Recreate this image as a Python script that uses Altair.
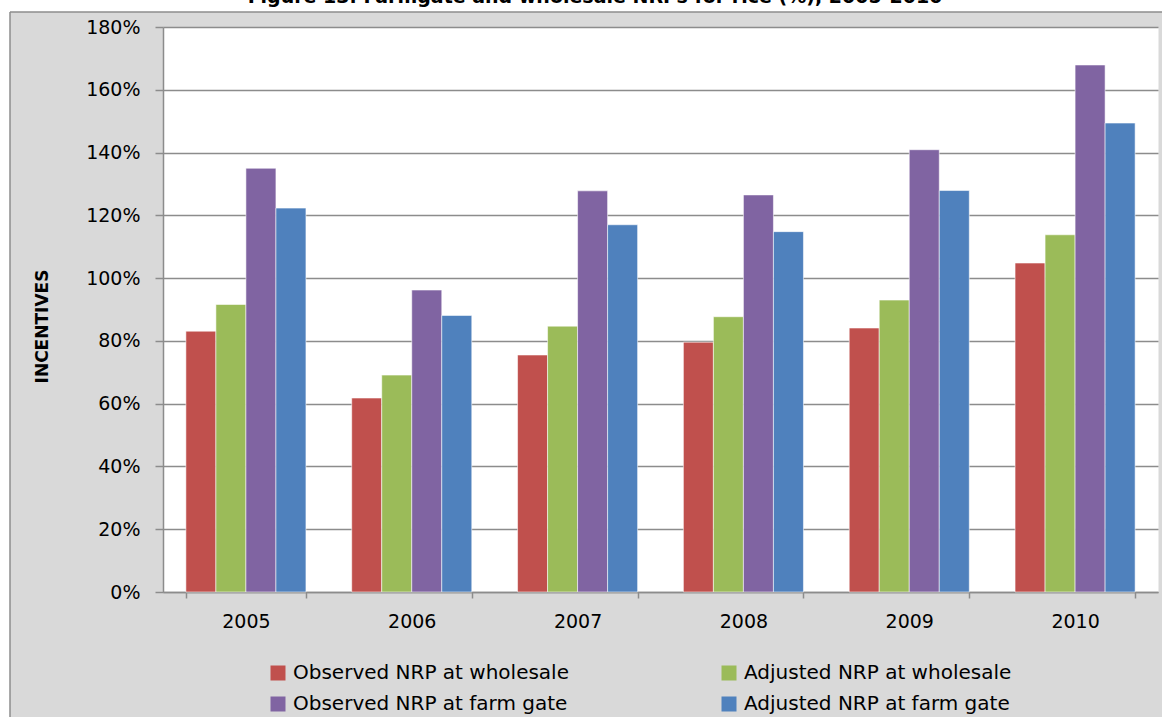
import altair as alt
import pandas as pd

# Nominal rates of protection for rice, by year (fractions; 1.0 = 100%)
years = ["2005", "2006", "2007", "2008", "2009", "2010"]
series = [
    "Observed NRP at wholesale",
    "Adjusted NRP at wholesale",
    "Observed NRP at farm gate",
    "Adjusted NRP at farm gate",
]
observed_wholesale = [0.831, 0.618, 0.755, 0.796, 0.841, 1.048]
adjusted_wholesale = [0.916, 0.691, 0.847, 0.877, 0.930, 1.138]
observed_farmgate = [1.350, 0.962, 1.278, 1.265, 1.409, 1.679]
adjusted_farmgate = [1.223, 0.881, 1.170, 1.148, 1.279, 1.494]
colors = ["#C0504D", "#9BBB59", "#8064A2", "#4F81BD"]
y_ticks = [0.0, 0.2, 0.4, 0.6, 0.8, 1.0, 1.2, 1.4, 1.6, 1.8]
title_text = "Figure 13. Farmgate and wholesale NRPs for rice (%), 2005-2010"

rows = []
for name, vals in zip(series, [observed_wholesale, adjusted_wholesale,
                               observed_farmgate, adjusted_farmgate]):
    for yr, v in zip(years, vals):
        rows.append({"year": yr, "series": name, "value": v})
df = pd.DataFrame(rows)

W, H = 995, 565
PAD_L, PAD_T = 163, 27
FONT = "DejaVu Sans"
GRID = "#8c8c8c"

bars = alt.Chart(df).mark_bar(
    stroke="white", strokeOpacity=0.55, strokeWidth=1
).encode(
    x=alt.X(
        "year:N",
        sort=years,
        scale=alt.Scale(paddingInner=0.276, paddingOuter=0.138),
        axis=alt.Axis(
            title=None, labelAngle=0, tickBand="extent", tickSize=6,
            labelPadding=14, domainColor=GRID, tickColor=GRID,
            domainWidth=1.5, tickWidth=1.5, grid=False,
        ),
    ),
    xOffset=alt.XOffset("series:N", sort=series,
                        scale=alt.Scale(paddingInner=0, paddingOuter=0)),
    y=alt.Y(
        "value:Q",
        scale=alt.Scale(domain=[0, 1.8], nice=False),
        axis=alt.Axis(
            title="INCENTIVES", values=y_ticks, format=".0%",
            grid=True, gridColor=GRID, gridWidth=1.5,
            domainColor=GRID, domainWidth=1.5, tickColor=GRID,
            tickWidth=1.5, tickSize=8, labelPadding=15,
            titleFontWeight="bold", titleFontSize=17,
            titleAngle=270, titleAlign="center", titleBaseline="middle",
            titleX=42 - PAD_L, titleY=326 - PAD_T,
        ),
    ),
    color=alt.Color(
        "series:N",
        sort=series,
        scale=alt.Scale(domain=series, range=colors),
        legend=alt.Legend(
            title=None, orient="none", legendX=105, legendY=636,
            direction="horizontal", columns=2, columnPadding=150,
            rowPadding=11,
            symbolType="square", symbolSize=225, symbolStrokeWidth=0,
            symbolOpacity=1, labelOffset=5, padding=0,
        ),
    ),
)

one = pd.DataFrame({"k": [0]})

# White page margin above and left of the grey chart frame
margin_top = alt.Chart(one).mark_rect(color="white").encode(
    x=alt.value(-PAD_L), x2=alt.value(W + 20),
    y=alt.value(-PAD_T), y2=alt.value(-15),
)
margin_left = alt.Chart(one).mark_rect(color="white").encode(
    x=alt.value(-PAD_L), x2=alt.value(-153),
    y=alt.value(-PAD_T), y2=alt.value(H + 200),
)
frame_top = alt.Chart(one).mark_rule(color=GRID, strokeWidth=1.5).encode(
    x=alt.value(-153), x2=alt.value(W + 20), y=alt.value(-15),
)
frame_left = alt.Chart(one).mark_rule(color=GRID, strokeWidth=1.5).encode(
    x=alt.value(-153), y=alt.value(-15), y2=alt.value(H + 200),
)
title = alt.Chart(pd.DataFrame({"t": [title_text]})).mark_text(
    font=FONT, fontSize=19, fontWeight="bold", color="black",
    align="center", baseline="alphabetic",
).encode(
    text="t:N", x=alt.value(595 - PAD_L), y=alt.value(3 - PAD_T),
)

chart = alt.layer(
    margin_top, margin_left, frame_top, frame_left, bars, title
).properties(
    width=W, height=H,
    autosize=alt.AutoSizeParams(type="none"),
    padding={"left": PAD_L, "top": PAD_T, "right": 1162 - PAD_L - W,
             "bottom": 717 - PAD_T - H},
    background="#D9D9D9",
).configure_view(
    fill="white", stroke="transparent",
).configure_axis(
    labelFont=FONT, labelFontSize=19, labelColor="black",
    titleFont=FONT, titleColor="black",
).configure_legend(
    labelFont=FONT, labelFontSize=20, labelColor="black", labelLimit=400,
)

chart.save("out.html", embed_options={"renderer": "svg", "actions": False})
